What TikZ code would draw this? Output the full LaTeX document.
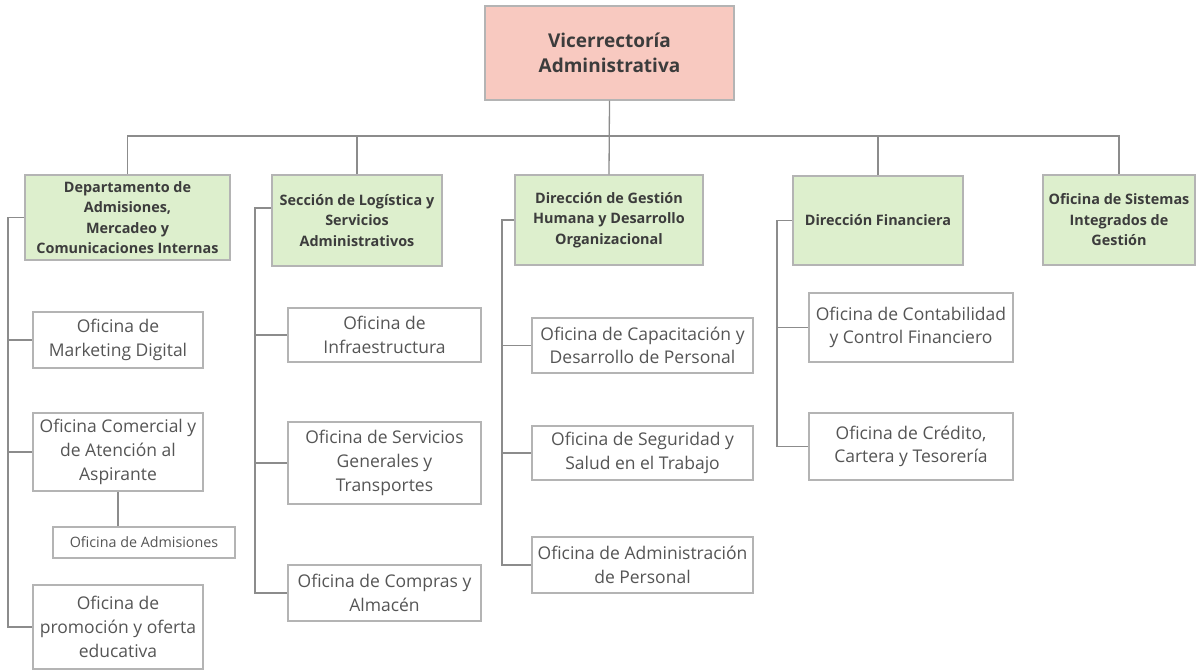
\documentclass[tikz,border=0pt]{standalone}
\usepackage{fontspec}
\setmainfont{Open Sans}
\usetikzlibrary{calc}
\definecolor{pinkfill}{HTML}{F8C9C0}
\definecolor{greenfill}{HTML}{DDEFCD}
\definecolor{boxline}{HTML}{B4B4B4}
\definecolor{connline}{HTML}{8C8C8C}
\definecolor{boldtext}{HTML}{3C3C3C}
\definecolor{regtext}{HTML}{555555}
\newcommand{\orgbox}[7]{%
  \node[#6, minimum width={#4-#2}, minimum height={#5-#3}] (#1) at ({(#2+#4)/2},{(#3+#5)/2}) {#7};}
\begin{document}
\begin{tikzpicture}[x=1pt,y=-1pt,
  basebox/.style={draw=boxline, line width=1.2pt, inner sep=0pt, align=center},
  topbox/.style={basebox, fill=pinkfill, text=boldtext, font=\fontsize{19}{25}\selectfont\bfseries},
  unitbox/.style={basebox, fill=greenfill, text=boldtext, font=\fontsize{14.4}{20.5}\selectfont\bfseries},
  officebox/.style={basebox, fill=white, text=regtext, font=\fontsize{17.5}{23.7}\selectfont},
  smallbox/.style={basebox, fill=white, text=regtext, font=\fontsize{14.3}{16}\selectfont},
  conn/.style={draw=connline, line width=1.3pt}]
\useasboundingbox (0,0) rectangle (1202,670);
\orgbox{vice}{485}{6}{734}{100}{topbox}{Vicerrectoría\\Administrativa}
\orgbox{dept}{25}{175}{230}{260}{unitbox}{Departamento de\\Admisiones,\\Mercadeo y\\Comunicaciones Internas}
\orgbox{sec}{272}{175}{442}{266}{unitbox}{Sección de Logística y\\Servicios\\Administrativos}
\orgbox{gest}{515}{175}{703}{265}{unitbox}{Dirección de Gestión\\Humana y Desarrollo\\Organizacional}
\orgbox{fin}{793}{176}{963}{265}{unitbox}{Dirección Financiera}
\orgbox{sis}{1043}{175}{1195}{265}{unitbox}{Oficina de Sistemas\\Integrados de\\Gestión}
% column 1
\orgbox{mkt}{33}{312}{203}{368}{officebox}{Oficina de\\Marketing Digital}
\orgbox{com}{33}{413}{203}{491}{officebox}{Oficina Comercial y\\de Atención al\\Aspirante}
\orgbox{adm}{53}{527}{235}{558}{smallbox}{Oficina de Admisiones}
\orgbox{prom}{33}{585}{203}{669}{officebox}{Oficina de\\promoción y oferta\\educativa}
% column 2
\orgbox{infra}{288}{308}{481}{362}{officebox}{Oficina de\\Infraestructura}
\orgbox{serv}{288}{422}{481}{504}{officebox}{Oficina de Servicios\\Generales y\\Transportes}
\orgbox{comp}{288}{565}{481}{621}{officebox}{Oficina de Compras y\\Almacén}
% column 3
\orgbox{cap}{532}{318}{753}{373}{officebox}{Oficina de Capacitación y\\Desarrollo de Personal}
\orgbox{seg}{532}{426}{753}{480}{officebox}{Oficina de Seguridad y\\Salud en el Trabajo}
\orgbox{admp}{532}{537}{753}{593}{officebox}{Oficina de Administración\\de Personal}
% column 4
\orgbox{cont}{809}{293}{1013}{362}{officebox}{Oficina de Contabilidad\\y Control Financiero}
\orgbox{cred}{809}{413}{1013}{480}{officebox}{Oficina de Crédito,\\Cartera y Tesorería}
% bus
\coordinate (bus) at (0,136);
\draw[conn] (vice.south) -- (gest.north);
\draw[conn] (dept.north) |- (sis.north |- bus) -- (sis.north);
\draw[conn] (sec.north) -- (sec.north |- bus);
\draw[conn] (fin.north) -- (fin.north |- bus);
% column branches
\coordinate (b1) at (8,0);
\draw[conn] (dept.west) -- (b1 |- dept.west) -- (b1 |- prom.west) -- (prom.west);
\draw[conn] (b1 |- mkt.west) -- (mkt.west);
\draw[conn] (b1 |- com.west) -- (com.west);
\draw[conn] (adm.north -| com.south) -- (com.south);
\coordinate (b2) at (255,0);
\coordinate (s2) at (sec.west |- 0,208);
\draw[conn] (s2) -- (b2 |- s2) -- (b2 |- comp.west) -- (comp.west);
\draw[conn] (b2 |- infra.west) -- (infra.west);
\draw[conn] (b2 |- serv.west) -- (serv.west);
\coordinate (b3) at (502,0);
\draw[conn] (gest.west) -- (b3 |- gest.west) -- (b3 |- admp.west) -- (admp.west);
\draw[conn] (b3 |- cap.west) -- (cap.west);
\draw[conn] (b3 |- seg.west) -- (seg.west);
\coordinate (b4) at (777,0);
\draw[conn] (fin.west) -- (b4 |- fin.west) -- (b4 |- cred.west) -- (cred.west);
\draw[conn] (b4 |- cont.west) -- (cont.west);
\end{tikzpicture}
\end{document}
